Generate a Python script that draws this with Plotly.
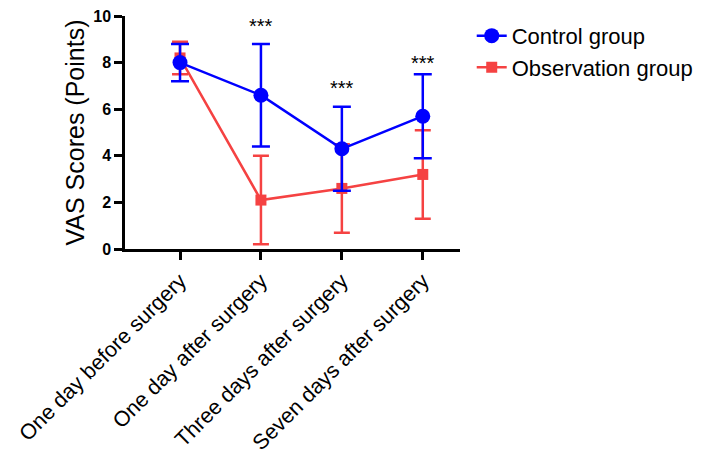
import plotly.graph_objects as go

categories = ["One day before surgery", "One day after surgery",
              "Three days after surgery", "Seven days after surgery"]
control_mean = [8.0, 6.6, 4.3, 5.7]
control_sd = [0.8, 2.2, 1.8, 1.8]
obs_mean = [8.2, 2.1, 2.6, 3.2]
obs_sd = [0.7, 1.9, 1.9, 1.9]
star_y = [None, 9.55, 6.92, 8.0]
star_text = ["", "***", "***", "***"]
y_ticks = [0, 2, 4, 6, 8, 10]

xs = list(range(len(categories)))

fig = go.Figure()
fig.add_trace(go.Scatter(
    x=xs, y=obs_mean, name="Observation group", mode="lines+markers",
    legendgroup="obs",
    line=dict(color="#F54242", width=2.5),
    marker=dict(symbol="square", size=11, color="#F54242"),
    error_y=dict(type="data", array=obs_sd, color="#F54242", thickness=2.5, width=8),
))
fig.add_trace(go.Scatter(
    x=xs, y=control_mean, name="Control group", mode="lines+markers",
    legendgroup="ctrl",
    line=dict(color="#0000FF", width=2.5),
    marker=dict(symbol="circle", size=15, color="#0000FF"),
    error_y=dict(type="data", array=control_sd, color="#0000FF", thickness=2.5, width=9),
))

for x, y, t in zip(xs, star_y, star_text):
    if y is not None:
        fig.add_annotation(x=x, y=y, text=t, showarrow=False,
                           font=dict(size=20, color="black", family="Liberation Sans"))

fig.update_layout(
    width=698, height=448,
    margin=dict(l=117, r=246, t=8, b=207, autoexpand=False),
    paper_bgcolor="white", plot_bgcolor="white",
    font=dict(family="Liberation Sans, Arial", color="black"),
    legend=dict(x=1.035, y=1.005, xanchor="left", yanchor="top",
                traceorder="reversed", font=dict(size=22),
                itemwidth=30, tracegroupgap=3),
    showlegend=True,
)
fig.update_xaxes(
    range=[-0.68, 3.46], tickmode="array", tickvals=xs, ticktext=categories,
    tickangle=-45, tickfont=dict(size=21.5), showgrid=False, zeroline=False,
    showline=True, linecolor="black", linewidth=2.5, automargin=False,
    ticklabeloverflow="allow",
    ticks="outside", ticklen=8, tickwidth=2.5, tickcolor="black",
)
fig.update_yaxes(
    range=[0, 10], tickmode="array", tickvals=y_ticks,
    tickfont=dict(size=16, family="Liberation Sans", weight="bold"),
    title=dict(text="VAS Scores (Points)", font=dict(size=25), standoff=2),
    showgrid=False, zeroline=False, automargin=False,
    ticklabeloverflow="allow",
    showline=True, linecolor="black", linewidth=2.5,
    ticks="outside", ticklen=8, tickwidth=2.5, tickcolor="black",
)

fig.write_html("out.html")
